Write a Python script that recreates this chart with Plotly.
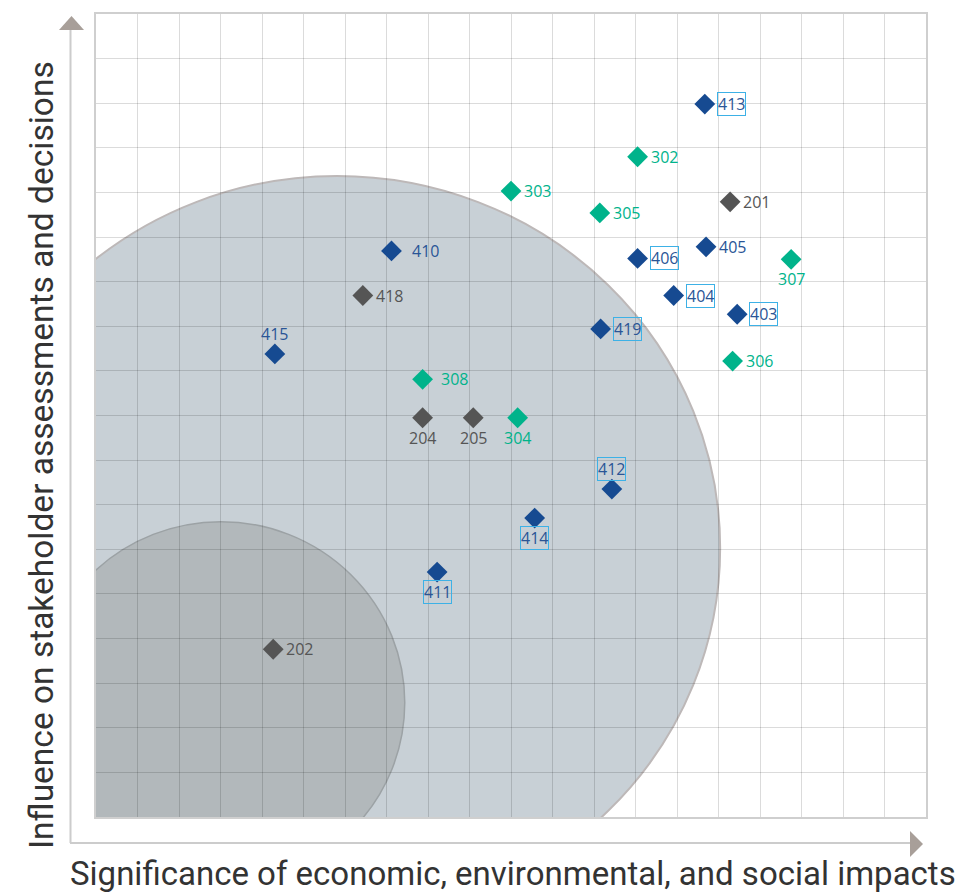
import plotly.graph_objects as go

# ---- data ----
blue_ids = ["413", "410", "406", "405", "404", "403", "419", "415", "412", "414", "411"]
blue_x = [14.67, 7.12, 13.05, 14.70, 13.92, 15.45, 12.16, 4.31, 12.43, 10.57, 8.22]
blue_y = [15.98, 12.69, 12.52, 12.78, 11.69, 11.27, 10.94, 10.38, 7.35, 6.70, 5.49]

green_ids = ["302", "303", "305", "307", "306", "308", "304"]
green_x = [13.05, 10.00, 12.14, 16.75, 15.34, 7.87, 10.16]
green_y = [14.80, 14.03, 13.54, 12.50, 10.22, 9.81, 8.95]

gray_ids = ["201", "418", "204", "205", "202"]
gray_x = [15.28, 6.43, 7.87, 9.09, 4.27]
gray_y = [13.79, 11.69, 8.95, 8.95, 3.76]

x_title = "Significance of economic, environmental, and social impacts"
y_title = "Influence on stakeholder assessments and decisions"

# ---- style ----
W, H = 972, 893
ML, MR, MT, MB = 96, 46, 14, 76
PW, PH = W - ML - MR, H - MT - MB

BLUE = "#164a91"
BLUE_TXT = "#2a5596"
GREEN = "#00b38b"
GRAY = "#555555"
BOX = "#3db1e6"

# label placement: (side, boxed)
label_style = {
    "413": ("r", True), "406": ("r", True), "404": ("r", True), "403": ("r", True),
    "419": ("r", True), "412": ("t", True), "414": ("b", True), "411": ("b", True),
    "410": ("r20", False), "405": ("r", False), "415": ("t", False),
    "302": ("r", False), "303": ("r", False), "305": ("r", False), "306": ("r", False),
    "308": ("r17", False), "307": ("b", False), "304": ("b", False),
    "201": ("r", False), "418": ("r", False), "204": ("b", False), "205": ("b", False),
    "202": ("r", False),
}


def px2x(px):
    return (px - ML) / PW


def py2y(py):
    return (MT + PH - py) / PH


fig = go.Figure()

groups = [
    (blue_ids, blue_x, blue_y, BLUE, BLUE_TXT),
    (green_ids, green_x, green_y, GREEN, GREEN),
    (gray_ids, gray_x, gray_y, GRAY, GRAY),
]

annotations = []
for ids, xs, ys, col, tcol in groups:
    fig.add_trace(go.Scatter(
        x=xs, y=ys, mode="markers",
        marker=dict(symbol="diamond", size=16, color=col, line=dict(width=0)),
        hoverinfo="text", text=ids, showlegend=False,
    ))
    for i, xv, yv in zip(ids, xs, ys):
        side, boxed = label_style[i]
        a = dict(x=xv, y=yv, xref="x", yref="y", text=i, showarrow=False,
                 font=dict(family="Open Sans", size=16, color=tcol),
                 borderpad=0)
        if boxed:
            a.update(bordercolor=BOX, borderwidth=1)
        if side.startswith("r"):
            off = int(side[1:]) if len(side) > 1 else 12
            a.update(xanchor="left", yanchor="middle", xshift=off)
        elif side == "b":
            a.update(xanchor="center", yanchor="middle", yshift=-20)
        elif side == "t":
            a.update(xanchor="center", yanchor="middle", yshift=20)
        annotations.append(a)

# axis titles
annotations.append(dict(
    x=px2x(513), y=py2y(873), xref="paper", yref="paper", text=x_title,
    showarrow=False, xanchor="center", yanchor="middle",
    font=dict(family="Roboto", size=33, color="#333333")))
annotations.append(dict(
    x=px2x(41), y=py2y(455), xref="paper", yref="paper", text=y_title,
    showarrow=False, xanchor="center", yanchor="middle", textangle=-90,
    font=dict(family="Roboto", size=33.5, color="#333333")))

shapes = [
    # big circle
    dict(type="circle", xref="x", yref="y", x0=-3.42, x1=15.04, y0=-2.31, y1=14.37,
         fillcolor="#c8d0d6", line=dict(color="#bdb8b8", width=2), layer="below"),
    # small circle
    dict(type="circle", xref="x", yref="y", x0=-1.42, x1=7.44, y0=-1.50, y1=6.62,
         fillcolor="#b2b8bb", line=dict(color="#9ca2a5", width=1.5), layer="below"),
    # y arrow line
    dict(type="line", xref="paper", yref="paper", x0=px2x(70.5), x1=px2x(70.5),
         y0=py2y(843), y1=py2y(28), line=dict(color="#cccccc", width=2)),
    # x arrow line
    dict(type="line", xref="paper", yref="paper", x0=px2x(70), x1=px2x(912),
         y0=py2y(843), y1=py2y(843), line=dict(color="#cccccc", width=2)),
    # y arrow head
    dict(type="path", xref="paper", yref="paper",
         path=f"M {px2x(59)} {py2y(30)} L {px2x(84)} {py2y(30)} L {px2x(71.5)} {py2y(16)} Z",
         fillcolor="#a89f99", line=dict(width=0)),
    # x arrow head
    dict(type="path", xref="paper", yref="paper",
         path=f"M {px2x(910)} {py2y(831)} L {px2x(910)} {py2y(857)} L {px2x(923)} {py2y(844)} Z",
         fillcolor="#a89f99", line=dict(width=0)),
]

grid = "rgba(0,0,0,0.14)"
fig.update_layout(
    width=W, height=H,
    margin=dict(l=ML, r=MR, t=MT, b=MB),
    paper_bgcolor="white", plot_bgcolor="white",
    shapes=shapes, annotations=annotations,
    xaxis=dict(range=[0, 20], dtick=1, tick0=0, showticklabels=False, ticks="",
               showgrid=True, gridcolor=grid, gridwidth=1, zeroline=False,
               showline=True, mirror=True, linecolor="#cfcfcf", linewidth=1.5,
               fixedrange=True),
    yaxis=dict(range=[0, 18], dtick=1, tick0=0, showticklabels=False, ticks="",
               showgrid=True, gridcolor=grid, gridwidth=1, zeroline=False,
               showline=True, mirror=True, linecolor="#cfcfcf", linewidth=1.5,
               fixedrange=True),
    hovermode="closest",
)

fig.write_html("out.html")
